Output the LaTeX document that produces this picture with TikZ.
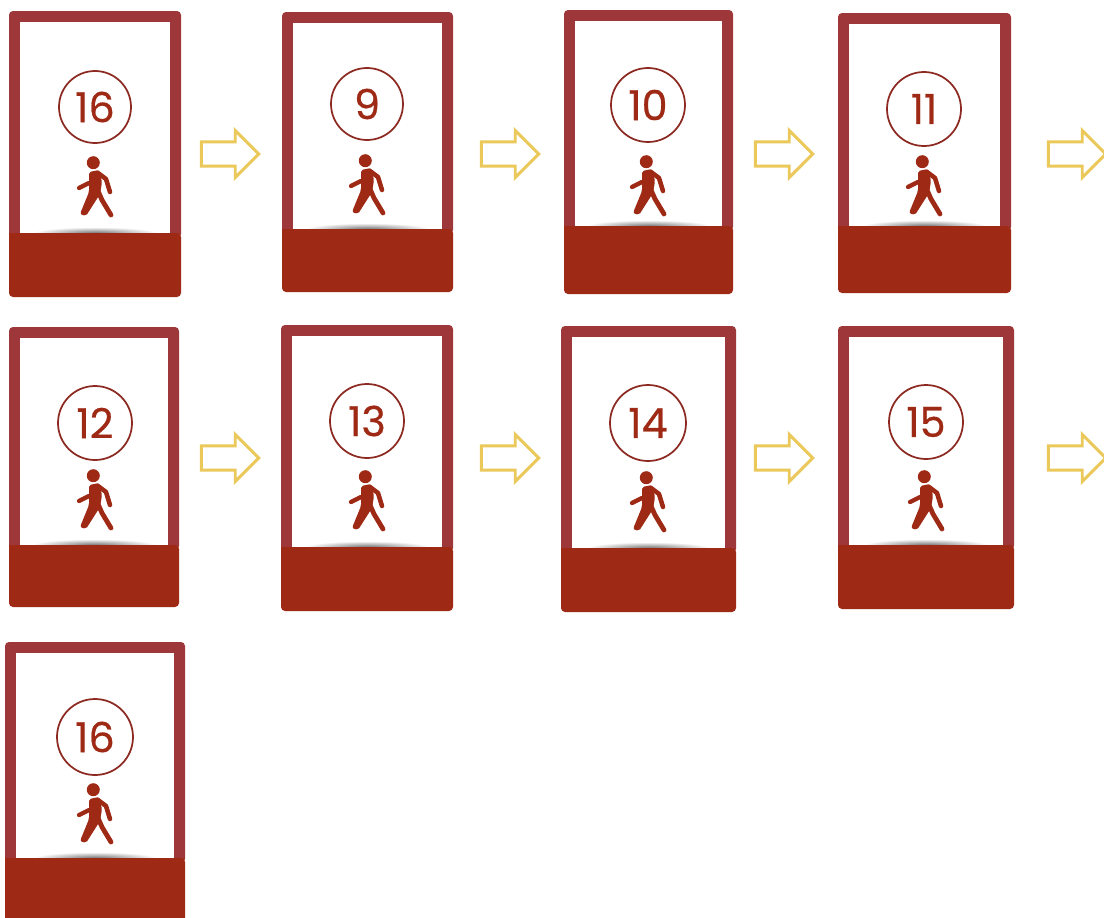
\documentclass[tikz,border=0pt]{standalone}
\usepackage{xcolor}
\usepackage{fontspec}
\setsansfont{Poppins}[FakeBold=0.5]
\usetikzlibrary{shapes,arrows,positioning}
\definecolor{framered}{RGB}{158,55,58}
\definecolor{barred}{RGB}{158,41,20}
\definecolor{ringred}{RGB}{140,42,34}
\definecolor{arrowgold}{RGB}{235,200,90}
\tikzset{
  framebox/.style={fill=framered,rounded corners=3pt},
  barbox/.style={fill=barred},
  ringnode/.style={circle,draw=ringred,line width=1.3pt,inner sep=0pt,text=barred,font=\sffamily\fontsize{31}{31}\selectfont},
  flowarrow/.style={single arrow,draw=arrowgold,line width=2.2pt,fill=white,minimum height=43pt,inner ysep=8pt,inner xsep=0pt,single arrow head extend=8.5pt},
  walker/.pic={
    \fill[barred] (-1.7,-24.3) circle (6.5);
    \fill[barred,rounded corners=1.5pt] (-6,-15) -- (4,-17) -- (7,-5) -- (5,7) -- (-9,29) -- (-15,27) -- (-6,5) -- cycle;
    \draw[barred,line width=3.6pt,line cap=round] (3,4) -- (7,13) -- (16,28);
    \draw[barred,line width=3.4pt,line cap=round,line join=round] (3,-14) -- (11,-8) -- (15,5);
    \draw[barred,line width=3.2pt,line cap=round] (-16,1) -- (-6,-4);
  }
}
\begin{document}
\begin{tikzpicture}[x=0.75pt,y=-0.75pt]
  \clip (0,0) rectangle (1104,918);
  % phone panels
  \foreach \idx/\xl/\xr/\yt/\yb/\ye/\cx/\cy/\rr/\wy/\num in {
    a/9/181/11/233/297/95/107/36/187/16,
    b/282/453/12/229/292/367/104/36/185/9,
    c/564/733/10/226/294/648/105/37/186/10,
    d/838/1011/13/226/293/924/109/37/186/11,
    e/9/179/327/545/607/95/423/37/500/12,
    f/281/453/325/547/611/367/421/37/501/13,
    g/561/736/326/548/612/648/423/38/502/14,
    h/838/1014/326/545/609/926/422/37/501/15,
    i/5/185/642/858/925/95/737/38/814/16}{
    \fill[framebox] (\xl,\yt) rectangle (\xr,\yb+5);
    \fill[white] (\xl+11,\yt+11) rectangle (\xr-11,\yb);
    \shade[inner color=black!55,outer color=white] ({(\xl+\xr)/2},\yb) ellipse (62 and 6);
    \fill[barbox] (\xl,\yb) [rounded corners=3pt] -- (\xl,\ye) -- (\xr,\ye) -- (\xr,\yb) [sharp corners] -- cycle;
    \node[ringnode,minimum size=1.5*\rr pt] (ring\idx) at (\cx,\cy) {\num};
    \pic at (\cx,\wy) {walker};
  }
  % arrows between panels
  \foreach \idx/\ax/\ay in {a/224/154,b/504/154,c/778/154,d/1071/154,e/224/458,f/504/458,g/778/458,h/1071/458}{
    \node[flowarrow] (arrow\idx) at (\ax,\ay) {};
  }
\end{tikzpicture}
\end{document}
